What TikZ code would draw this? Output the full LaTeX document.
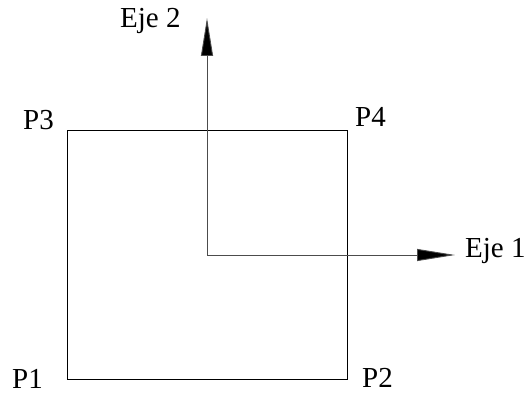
\documentclass[tikz,border=0pt]{standalone}
\usepackage{fontspec}
\setmainfont{Liberation Serif}
\usetikzlibrary{arrows.meta}
\tikzset{
  lbl/.style={anchor=base west,inner sep=0pt,font=\fontsize{29}{32}\selectfont},
  axis/.style={line width=0.9pt,draw=black!70,-{Triangle[length=38pt,width=12pt,fill=black]}}
}
\begin{document}
\begin{tikzpicture}[x=1pt,y=1pt]
\useasboundingbox (0,0) rectangle (526,393);

\coordinate (p1) at (67,14);
\coordinate (p2) at (347,14);
\coordinate (p3) at (67,263);
\coordinate (p4) at (347,263);
\draw[line width=0.9pt] (p1) -- (p2) -- (p4) -- (p3) -- cycle;

\node[lbl] (l1) at (12,5) {P1};
\node[lbl] (l2) at (362,6) {P2};
\node[lbl] (l3) at (23,263) {P3};
\node[lbl] (l4) at (355,266) {P4};

\coordinate (o) at (207,138);
\coordinate (t1) at (455,138);
\coordinate (t2) at (207,375);
\draw[axis] (o) -- (t1);
\draw[axis] (o) -- (t2);

\node[lbl] (e1) at (465,135) {Eje 1};
\node[lbl] (e2) at (120,365) {Eje 2};

\end{tikzpicture}
\end{document}
